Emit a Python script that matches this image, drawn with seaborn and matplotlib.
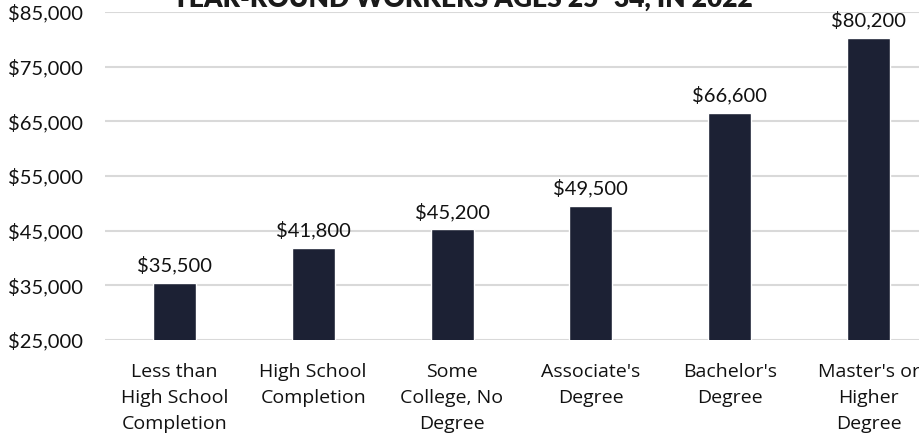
import seaborn as sns
from matplotlib import pyplot as plt
from matplotlib.ticker import FuncFormatter
import pandas as pd

categories = [
    "Less than\nHigh School\nCompletion",
    "High School\nCompletion",
    "Some\nCollege, No\nDegree",
    "Associate's\nDegree",
    "Bachelor's\nDegree",
    "Master's or\nHigher\nDegree",
]
earnings = [35500, 41800, 45200, 49500, 66600, 80200]
y_ticks = [25000, 35000, 45000, 55000, 65000, 75000, 85000]
title = "YEAR-ROUND WORKERS AGES 25\u201334, IN 2022"

sns.set_style("white")
plt.rcParams['font.family'] = ['Open Sans', 'DejaVu Sans']

data_set = pd.DataFrame({"level": categories, "earnings": earnings})

fig = plt.figure(figsize=(9.2, 4.42), dpi=100)
ax = fig.add_axes([0.114, 0.231, 0.886, 0.742])

sns.barplot(data=data_set, x="level", y="earnings", color="#1c2134",
            width=0.31, saturation=1, ax=ax)

for i, v in enumerate(earnings):
    ax.annotate(f"${v:,.0f}", (i, v), xytext=(0, 6), textcoords="offset points",
                ha="center", va="bottom", fontsize=14.5, color="#111111",
                family=["Lato", "DejaVu Sans"])

ax.set_ylim(25000, 85000)
ax.set_xlim(-0.5, 5.37)
ax.set_yticks(y_ticks)
ax.yaxis.set_major_formatter(FuncFormatter(lambda v, p: f"${v:,.0f}"))
ax.yaxis.grid(True, color="#d9d9d9", linewidth=1.5)
ax.set_axisbelow(True)
ax.tick_params(axis="y", length=0, pad=16, labelsize=14.5, labelcolor="#111111")
ax.tick_params(axis="x", length=0, pad=16.5, labelsize=14, labelcolor="#111111")
for lbl in ax.get_yticklabels():
    lbl.set_family(["Lato", "DejaVu Sans"])
for lbl in ax.get_xticklabels():
    lbl.set_linespacing(1.58)
ax.set_xlabel("")
ax.set_ylabel("")
sns.despine(ax=ax, left=True, bottom=True)

fig.text(0.502, 1 - 7 / 442, title, ha="center", va="baseline",
         fontsize=19, fontweight="heavy", color="#1a1a1a",
         family=["Lato", "DejaVu Sans"])

fig.savefig("out.png", dpi=100)
